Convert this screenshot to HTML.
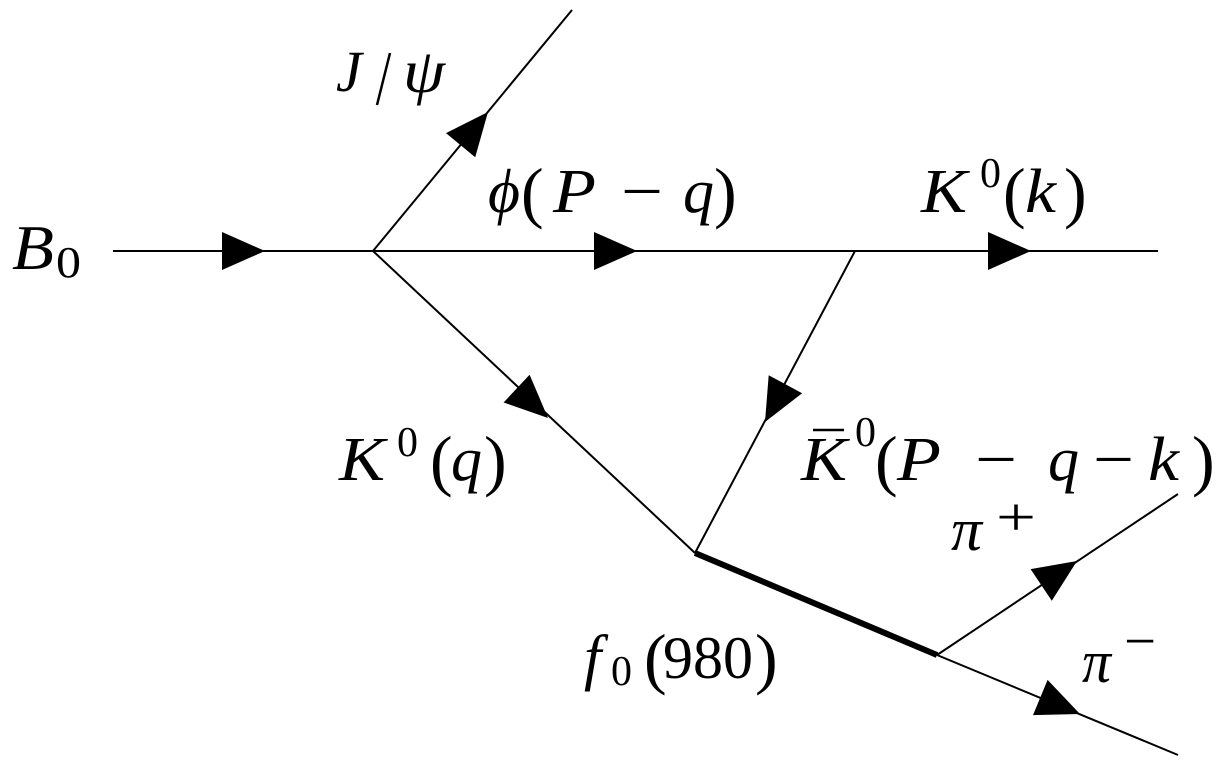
<!DOCTYPE html>
<html>
<head>
<meta charset="utf-8">
<style>
  html, body { margin: 0; padding: 0; background: #fff; }
  svg { display: block; }
  text { font-family: "Liberation Serif", "DejaVu Serif", serif; fill: #000; }
  .i { font-style: italic; }
</style>
</head>
<body>
<svg width="1218" height="762" viewBox="0 0 1218 762" xmlns="http://www.w3.org/2000/svg">
  <rect width="1218" height="762" fill="#fff"/>
  <g stroke="#000" stroke-width="2" fill="none" stroke-linecap="butt">
    <line x1="113" y1="251" x2="1158" y2="251"/>
    <line x1="373" y1="251" x2="572" y2="10"/>
    <line x1="373" y1="251" x2="695" y2="553"/>
    <line x1="855" y1="251" x2="695" y2="553"/>
    <line x1="937" y1="655" x2="1178" y2="494"/>
    <line x1="937" y1="655" x2="1178" y2="755"/>
  </g>
  <line x1="695" y1="553" x2="937" y2="655" stroke="#000" stroke-width="6"/>

  <g fill="#000" stroke="none">
    <polygon points="265,251 222,232 222,270"/>
    <polygon points="637,251 594,232 594,270"/>
    <polygon points="1031,251 988,232 988,270"/>
    <polygon points="488,112 475.2,157.3 446,133.1"/>
    <polygon points="548,418 503.6,402.5 529.6,374.7"/>
    <polygon points="765,422 802.1,393.2 768.7,375.2"/>
    <polygon points="1077,561 1051.8,600.7 1030.6,569.1"/>
    <polygon points="1080,714 1033,715.1 1047.6,679.9"/>
  </g>

  <!-- B0 -->
  <text class="i" font-size="64" x="12" y="269" textLength="42" lengthAdjust="spacingAndGlyphs">B</text>
  <text font-size="44" x="56" y="277" textLength="25" lengthAdjust="spacingAndGlyphs">0</text>

  <!-- J/psi -->
  <text class="i" font-size="58" x="336" y="91">J</text>
  <line x1="377" y1="105" x2="390" y2="53" stroke="#000" stroke-width="2.5"/>
  <text class="i" font-size="62" x="403" y="92" textLength="42" lengthAdjust="spacingAndGlyphs">ψ</text>

  <!-- phi(P - q) -->
  <text class="i" font-size="62" x="488" y="212" textLength="32" lengthAdjust="spacingAndGlyphs">ϕ</text>
  <text font-size="68" x="521" y="215">(</text>
  <text class="i" font-size="62" x="553" y="212" textLength="43" lengthAdjust="spacingAndGlyphs">P</text>
  <text font-size="62" x="621" y="212" textLength="42" lengthAdjust="spacingAndGlyphs">−</text>
  <text class="i" font-size="62" x="683" y="212">q</text>
  <text font-size="68" x="714" y="215">)</text>

  <!-- K0(k) -->
  <text class="i" font-size="62" x="921" y="212" textLength="46" lengthAdjust="spacingAndGlyphs">K</text>
  <text font-size="42" x="980" y="187">0</text>
  <text font-size="68" x="1003" y="215">(</text>
  <text class="i" font-size="62" x="1025" y="212" textLength="31" lengthAdjust="spacingAndGlyphs">k</text>
  <text font-size="68" x="1064" y="215">)</text>

  <!-- K0(q) -->
  <text class="i" font-size="62" x="339" y="480" textLength="46" lengthAdjust="spacingAndGlyphs">K</text>
  <text font-size="42" x="397" y="456">0</text>
  <text font-size="68" x="430" y="483">(</text>
  <text class="i" font-size="62" x="451" y="480">q</text>
  <text font-size="68" x="484" y="483">)</text>

  <!-- Kbar0(P - q - k) -->
  <line x1="813" y1="430" x2="844" y2="430" stroke="#000" stroke-width="2.5"/>
  <text class="i" font-size="62" x="801" y="480" textLength="46" lengthAdjust="spacingAndGlyphs">K</text>
  <text font-size="42" x="855" y="446">0</text>
  <text font-size="68" x="875" y="483">(</text>
  <text class="i" font-size="62" x="897" y="480" textLength="44" lengthAdjust="spacingAndGlyphs">P</text>
  <text font-size="62" x="975" y="480" textLength="42" lengthAdjust="spacingAndGlyphs">−</text>
  <text class="i" font-size="62" x="1048" y="480">q</text>
  <text font-size="62" x="1093" y="480" textLength="41" lengthAdjust="spacingAndGlyphs">−</text>
  <text class="i" font-size="62" x="1148" y="480" textLength="31" lengthAdjust="spacingAndGlyphs">k</text>
  <text font-size="68" x="1192" y="483">)</text>

  <!-- pi+ -->
  <text class="i" font-size="60" x="951" y="550" textLength="31" lengthAdjust="spacingAndGlyphs">π</text>
  <text font-size="54" x="996" y="535" textLength="40" lengthAdjust="spacingAndGlyphs">+</text>

  <!-- pi- -->
  <text class="i" font-size="60" x="1082" y="682" textLength="29" lengthAdjust="spacingAndGlyphs">π</text>
  <text font-size="54" x="1124" y="659" textLength="32" lengthAdjust="spacingAndGlyphs">−</text>

  <!-- f0(980) -->
  <text class="i" font-size="62" x="584" y="678">f</text>
  <text font-size="42" x="611" y="685">0</text>
  <text font-size="68" x="644" y="681">(</text>
  <text font-size="60" x="663" y="678" textLength="90" lengthAdjust="spacingAndGlyphs">980</text>
  <text font-size="68" x="755" y="681">)</text>
</svg>
</body>
</html>
